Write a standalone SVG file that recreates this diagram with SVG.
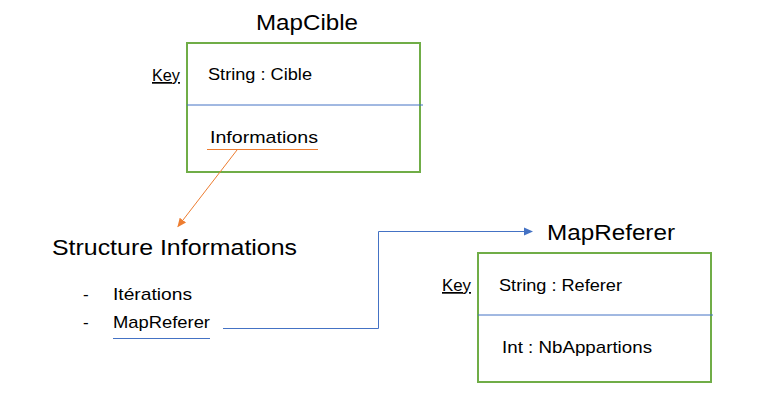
<svg xmlns="http://www.w3.org/2000/svg" width="760" height="410" viewBox="0 0 760 410">
<style>
.box{fill:none;stroke:#70AD47;stroke-width:2}
.div{stroke:#4472C4;stroke-width:1}
.t{font-family:"Liberation Sans",Arial,sans-serif;fill:#000}
.title{font-size:22px}
.lbl{font-size:17px}
.key{font-size:17px;text-decoration:underline}
.ou{stroke:#ED7D31;stroke-width:1}
.bu{stroke:#4472C4;stroke-width:1}
</style>
<defs>
<marker id="ao" markerWidth="10" markerHeight="10" refX="8" refY="5" orient="auto" markerUnits="userSpaceOnUse"><path d="M0,1 L9,5 L0,9 z" fill="#ED7D31"/></marker>
<marker id="ab" markerWidth="10" markerHeight="10" refX="8" refY="5" orient="auto" markerUnits="userSpaceOnUse"><path d="M0,1 L9,5 L0,9 z" fill="#4472C4"/></marker>
</defs>
<rect width="760" height="410" fill="#fff"/>
<g id="mapcible">
<text class="t title" x="256" y="30" textLength="102" lengthAdjust="spacingAndGlyphs">MapCible</text>
<rect class="box" x="187" y="43" width="233" height="129"/>
<line class="div" x1="187" y1="105" x2="423" y2="105"/>
<text class="t key" x="152" y="81" textLength="28" lengthAdjust="spacingAndGlyphs">Key</text>
<text class="t lbl" x="208" y="80" textLength="104" lengthAdjust="spacingAndGlyphs">String : Cible</text>
<text class="t lbl" x="210" y="143" textLength="108" lengthAdjust="spacingAndGlyphs">Informations</text>
<line class="ou" x1="207" y1="149.5" x2="318" y2="149.5"/>
</g>
<g id="structure">
<text class="t title" x="52" y="255" textLength="245" lengthAdjust="spacingAndGlyphs">Structure Informations</text>
<text class="t lbl" x="83" y="300">-</text>
<text class="t lbl" x="113" y="300" textLength="79" lengthAdjust="spacingAndGlyphs">Itérations</text>
<text class="t lbl" x="83" y="328">-</text>
<text class="t lbl" x="113" y="328" textLength="97" lengthAdjust="spacingAndGlyphs">MapReferer</text>
<line class="bu" x1="113" y1="338.5" x2="210" y2="338.5"/>
</g>
<g id="mapreferer">
<text class="t title" x="547" y="240" textLength="128" lengthAdjust="spacingAndGlyphs">MapReferer</text>
<rect class="box" x="478" y="253" width="233" height="129"/>
<line class="div" x1="478" y1="315" x2="713" y2="315"/>
<text class="t key" x="442" y="291" textLength="29" lengthAdjust="spacingAndGlyphs">Key</text>
<text class="t lbl" x="499" y="291" textLength="123" lengthAdjust="spacingAndGlyphs">String : Referer</text>
<text class="t lbl" x="502" y="353" textLength="150" lengthAdjust="spacingAndGlyphs">Int : NbAppartions</text>
</g>
<g id="connectors">
<line class="ou" x1="237" y1="150" x2="178" y2="226.5" marker-end="url(#ao)"/>
<polyline class="bu" fill="none" points="223,328.5 378.5,328.5 378.5,231.5 532,231.5" marker-end="url(#ab)"/>
</g>
</svg>
